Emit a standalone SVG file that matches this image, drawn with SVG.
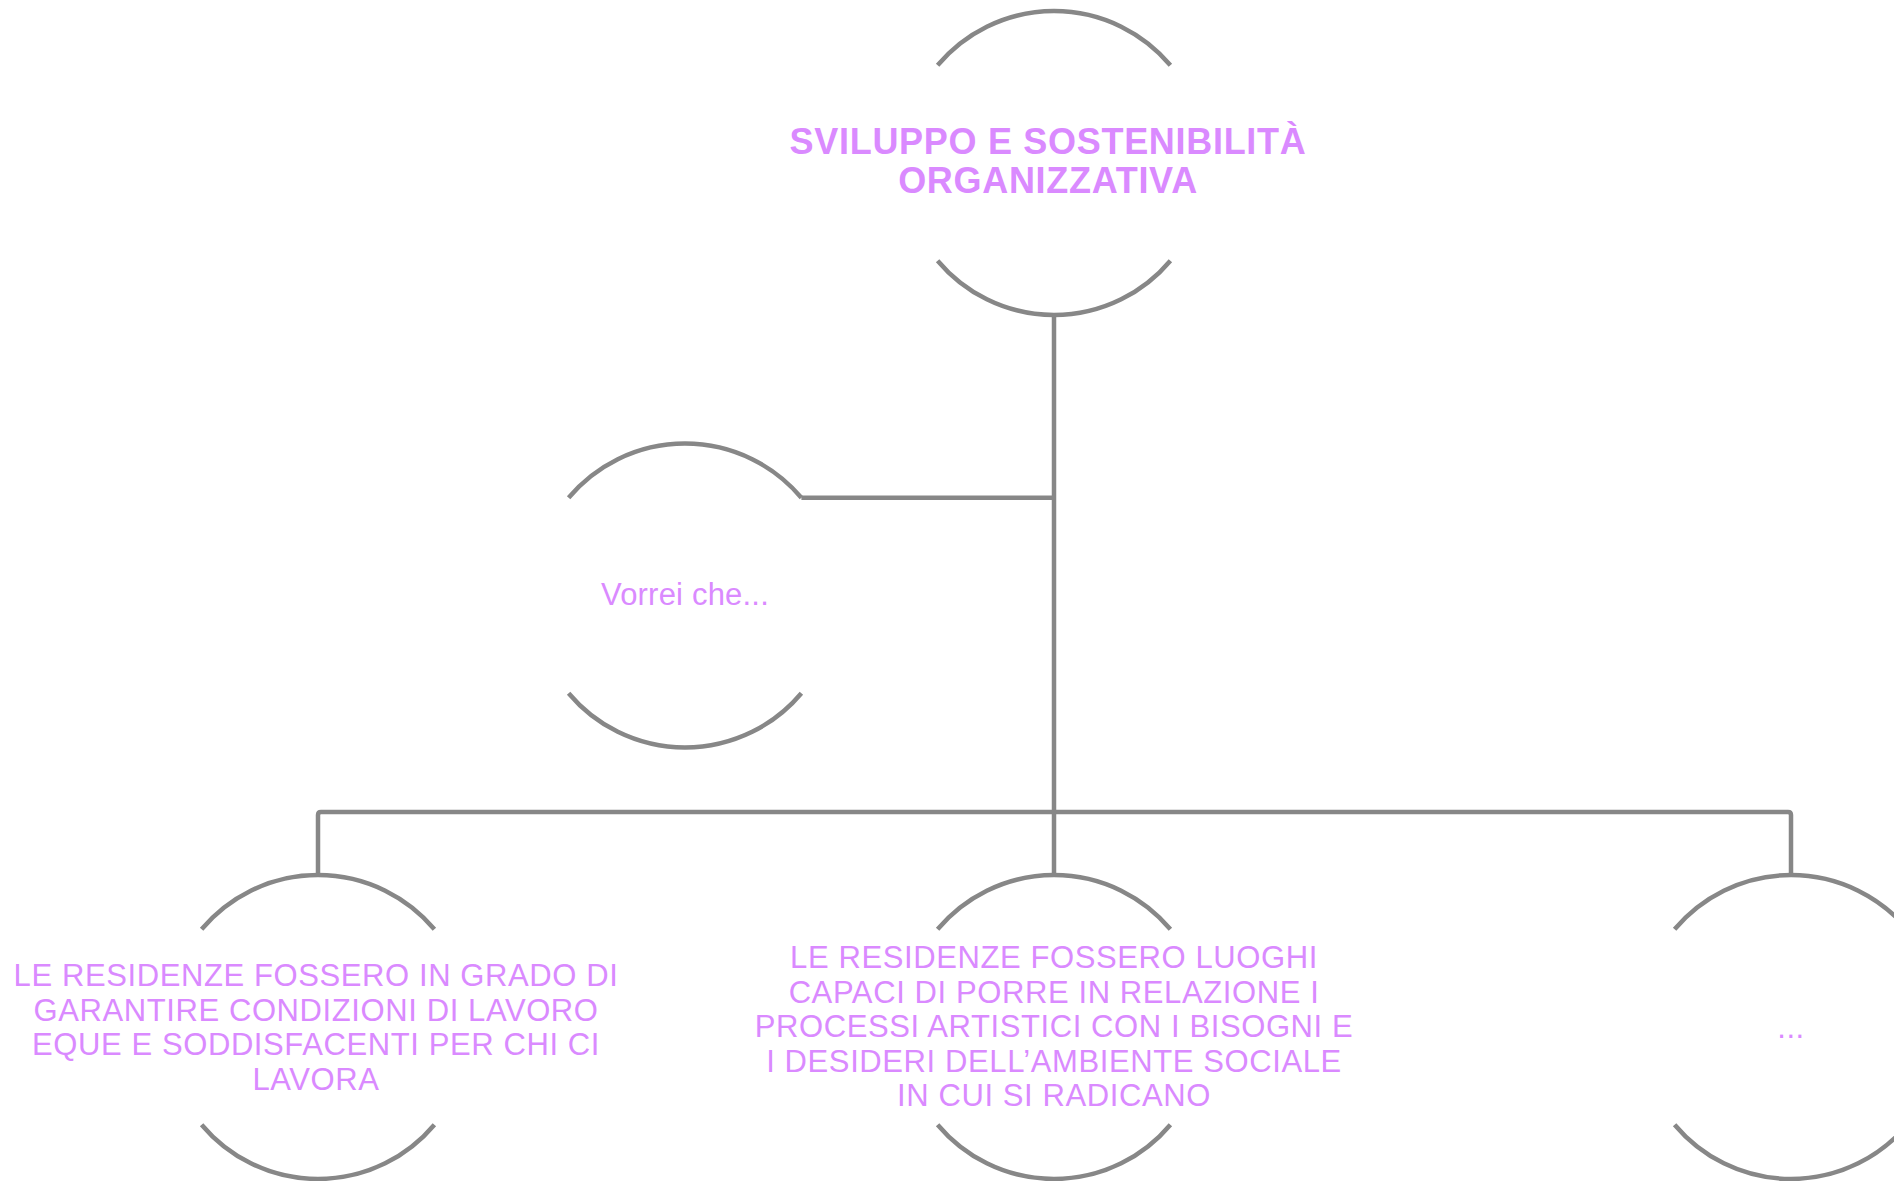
<svg xmlns="http://www.w3.org/2000/svg" width="1894" height="1181" viewBox="0 0 1894 1181">
<style>
.arc{fill:none;stroke:#878787;stroke-width:4.5}
.con{fill:none;stroke:#878787;stroke-width:4.5;stroke-linejoin:round}
.t{font-family:"Liberation Sans",Arial,sans-serif;fill:#da8aff;text-anchor:middle}
.title{font-size:36px;font-weight:bold;letter-spacing:0.7px}
.body{font-size:31px;letter-spacing:0.6px}
</style>
<rect width="1894" height="1181" fill="#ffffff"/>
<g id="connectors">
<path class="con" d="M1054 315 V812"/>
<path class="con" d="M318 875 V815 Q318 812 321 812 H1788 Q1791 812 1791 815 V875"/>
<path class="con" d="M1054 812 V875"/>
<path class="con" d="M801.4 497.8 H1054"/>
</g>
<g id="node-root">
<path class="arc" d="M937.6 65.3 A152 152 0 0 1 1170.4 65.3"/>
<path class="arc" d="M937.6 260.7 A152 152 0 0 0 1170.4 260.7"/>
<text class="t title" x="1048" y="154">SVILUPPO E SOSTENIBILITÀ</text>
<text class="t title" x="1048" y="193">ORGANIZZATIVA</text>
</g>
<g id="node-vorrei">
<path class="arc" d="M568.6 497.8 A152 152 0 0 1 801.4 497.8"/>
<path class="arc" d="M568.6 693.2 A152 152 0 0 0 801.4 693.2"/>
<text class="t body" x="685" y="605" style="letter-spacing:0.2px">Vorrei che...</text>
</g>
<g id="node-left">
<path class="arc" d="M201.6 929.3 A152 152 0 0 1 434.4 929.3"/>
<path class="arc" d="M201.6 1124.7 A152 152 0 0 0 434.4 1124.7"/>
<text class="t body" x="316" y="986">LE RESIDENZE FOSSERO IN GRADO DI</text>
<text class="t body" x="316" y="1020.5">GARANTIRE CONDIZIONI DI LAVORO</text>
<text class="t body" x="316" y="1055">EQUE E SODDISFACENTI PER CHI CI</text>
<text class="t body" x="316" y="1089.5">LAVORA</text>
</g>
<g id="node-middle">
<path class="arc" d="M937.6 929.3 A152 152 0 0 1 1170.4 929.3"/>
<path class="arc" d="M937.6 1124.7 A152 152 0 0 0 1170.4 1124.7"/>
<text class="t body" x="1054" y="968.3">LE RESIDENZE FOSSERO LUOGHI</text>
<text class="t body" x="1054" y="1002.7">CAPACI DI PORRE IN RELAZIONE I</text>
<text class="t body" x="1054" y="1037.1">PROCESSI ARTISTICI CON I BISOGNI E</text>
<text class="t body" x="1054" y="1071.5">I DESIDERI DELL’AMBIENTE SOCIALE</text>
<text class="t body" x="1054" y="1105.9">IN CUI SI RADICANO</text>
</g>
<g id="node-right">
<path class="arc" d="M1674.6 929.3 A152 152 0 0 1 1907.4 929.3"/>
<path class="arc" d="M1674.6 1124.7 A152 152 0 0 0 1907.4 1124.7"/>
<text class="t body" x="1791" y="1038">...</text>
</g>
</svg>
